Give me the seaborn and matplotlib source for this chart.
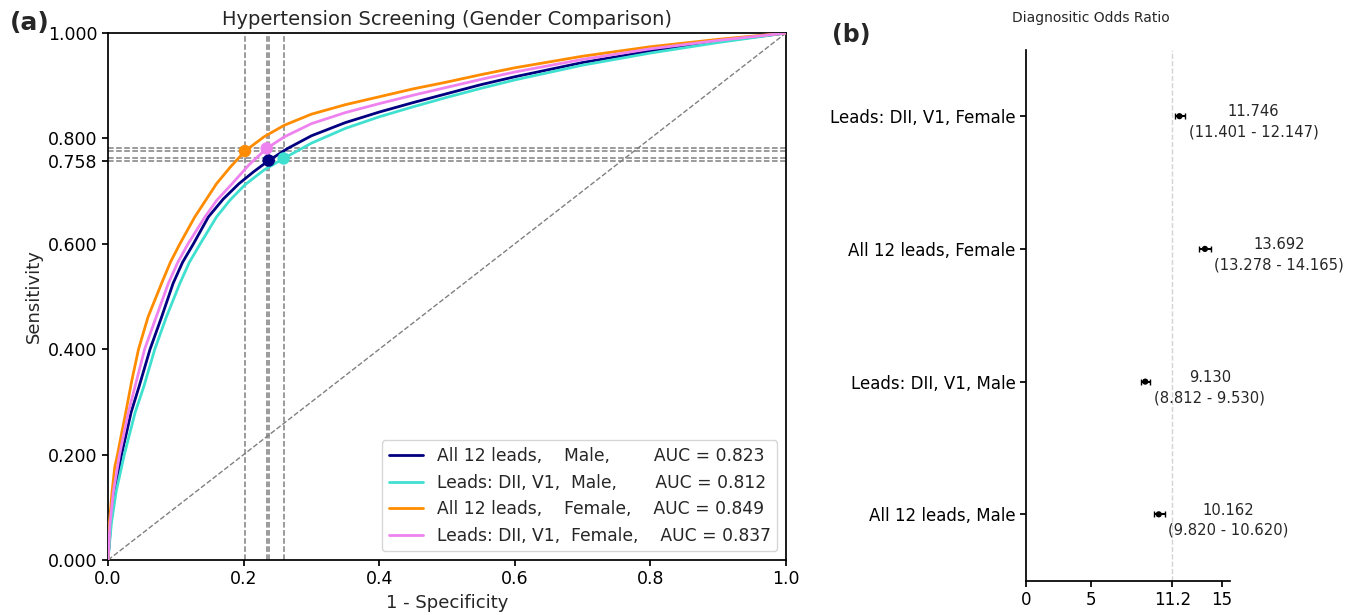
import matplotlib
matplotlib.use("Agg")
import matplotlib.pyplot as plt
import seaborn as sns
import pandas as pd
import numpy as np

# ---------------- data ----------------
curve_labels = [
    "All 12 leads,    Male,        AUC = 0.823",
    "Leads: DII, V1,  Male,       AUC = 0.812",
    "All 12 leads,    Female,    AUC = 0.849",
    "Leads: DII, V1,  Female,    AUC = 0.837",
]
curve_colors = ["navy", "turquoise", "darkorange", "violet"]

fpr_all12_male = [0, 0.004, 0.010, 0.020, 0.034, 0.046, 0.062, 0.079, 0.096, 0.110, 0.126, 0.148, 0.170, 0.193, 0.215, 0.237,
                  0.265, 0.30, 0.35, 0.40, 0.45, 0.50, 0.55, 0.60, 0.70, 0.80, 0.90, 1.0]
tpr_all12_male = [0, 0.07, 0.13, 0.20, 0.28, 0.33, 0.40, 0.461, 0.525, 0.565, 0.60, 0.651, 0.685, 0.714, 0.737, 0.758,
                  0.781, 0.805, 0.830, 0.850, 0.868, 0.885, 0.902, 0.917, 0.944, 0.966, 0.984, 1.0]

fpr_dii_male = [0, 0.005, 0.012, 0.024, 0.040, 0.053, 0.069, 0.086, 0.106, 0.120, 0.136, 0.160, 0.180, 0.202, 0.230, 0.259,
                0.30, 0.35, 0.40, 0.45, 0.50, 0.55, 0.60, 0.70, 0.80, 0.90, 1.0]
tpr_dii_male = [0, 0.07, 0.13, 0.20, 0.28, 0.33, 0.40, 0.461, 0.525, 0.565, 0.60, 0.651, 0.683, 0.712, 0.740, 0.762,
                0.791, 0.819, 0.841, 0.860, 0.878, 0.895, 0.911, 0.939, 0.962, 0.982, 1.0]

fpr_all12_female = [0, 0.002, 0.006, 0.010, 0.014, 0.020, 0.025, 0.035, 0.045, 0.059, 0.079, 0.092, 0.106, 0.128, 0.160,
                    0.180, 0.202, 0.23, 0.26, 0.30, 0.35, 0.40, 0.45, 0.50, 0.55, 0.60, 0.70, 0.80, 0.90, 1.0]
tpr_all12_female = [0, 0.07, 0.13, 0.177, 0.20, 0.24, 0.272, 0.34, 0.40, 0.461, 0.525, 0.565, 0.60, 0.651, 0.714,
                    0.745, 0.776, 0.803, 0.825, 0.846, 0.864, 0.879, 0.894, 0.907, 0.921, 0.934, 0.956, 0.974, 0.988, 1.0]

fpr_dii_female = [0, 0.003, 0.008, 0.017, 0.030, 0.040, 0.054, 0.071, 0.089, 0.103, 0.118, 0.143, 0.160, 0.183, 0.208,
                  0.234, 0.26, 0.30, 0.35, 0.40, 0.45, 0.50, 0.55, 0.60, 0.70, 0.80, 0.90, 1.0]
tpr_dii_female = [0, 0.07, 0.13, 0.20, 0.28, 0.33, 0.40, 0.461, 0.525, 0.565, 0.60, 0.651, 0.682, 0.714, 0.750,
                  0.781, 0.803, 0.828, 0.849, 0.866, 0.882, 0.897, 0.912, 0.926, 0.950, 0.970, 0.986, 1.0]

# operating points (1-specificity, sensitivity)
op_fpr = [0.237, 0.259, 0.202, 0.234]
op_tpr = [0.758, 0.762, 0.776, 0.781]

roc_yticks = [0.0, 0.2, 0.4, 0.6, 0.758, 0.8, 1.0]
roc_xticks = [0.0, 0.2, 0.4, 0.6, 0.8, 1.0]

# forest plot (bottom to top)
dor_labels = ["All 12 leads, Male", "Leads: DII, V1, Male", "All 12 leads, Female", "Leads: DII, V1, Female"]
dor_values = [10.162, 9.130, 13.692, 11.746]
dor_low = [9.820, 8.812, 13.278, 11.401]
dor_high = [10.620, 9.530, 14.165, 12.147]
dor_ref = 11.2
dor_xticks = [0, 5, 11.2, 15]
dor_xticklabels = ["0", "5", "11.2", "15"]

# ---------------- figure ----------------
sns.set_theme(style="ticks")
plt.rcParams["font.family"] = ["DejaVu Sans"]

fig = plt.figure(figsize=(13.57, 6.15), dpi=100)
ax = fig.add_axes([0.0796, 0.0894, 0.4996, 0.8569])
ax2 = fig.add_axes([0.756, 0.0558, 0.1503, 0.8632])

fprs = [fpr_all12_male, fpr_dii_male, fpr_all12_female, fpr_dii_female]
tprs = [tpr_all12_male, tpr_dii_male, tpr_all12_female, tpr_dii_female]

for fx, ty, lab, col in zip(fprs, tprs, curve_labels, curve_colors):
    df = pd.DataFrame({"fpr": fx, "tpr": ty})
    sns.lineplot(data=df, x="fpr", y="tpr", sort=False, estimator=None,
                 color=col, lw=2, label=lab, ax=ax, zorder=3)

# reference dashed lines
ax.plot([0, 1], [0, 1], ls="--", color="gray", lw=1, zorder=1)
for fx, ty in zip(op_fpr, op_tpr):
    ax.axvline(fx, ls="--", color="gray", lw=1.1, zorder=1)
    ax.axhline(ty, ls="--", color="gray", lw=1.1, zorder=1)

for fx, ty, col in zip(op_fpr, op_tpr, curve_colors):
    ax.scatter(fx, ty, s=80, color=col, zorder=4, edgecolor="none")

ax.set_xlim(0, 1)
ax.set_ylim(0, 1)
ax.set_xticks(roc_xticks)
ax.set_xticklabels([f"{v:.1f}" for v in roc_xticks], fontsize=12.5)
ax.set_yticks(roc_yticks)
ax.set_yticklabels([f"{v:.3f}" for v in roc_yticks], fontsize=12.5)
ax.set_xlabel("1 - Specificity", fontsize=13)
ax.set_ylabel("Sensitivity", fontsize=13)
ax.set_title("Hypertension Screening (Gender Comparison)", fontsize=14)
for s in ax.spines.values():
    s.set_visible(True)
    s.set_color("black")
ax.tick_params(colors="black", length=4)
ax.legend(loc="lower right", fontsize=12.3, frameon=True, handlelength=2.0)

# ---------------- forest plot ----------------
ypos = np.arange(len(dor_values))
fdf = pd.DataFrame({"dor": dor_values, "y": ypos})
xerr = np.array([np.array(dor_values) - np.array(dor_low), np.array(dor_high) - np.array(dor_values)])
ax2.errorbar(dor_values, ypos, xerr=xerr, fmt="none", ecolor="black", elinewidth=1.5, capsize=2, zorder=3)
sns.scatterplot(data=fdf, x="dor", y="y", color="black", s=20, ax=ax2, zorder=4, edgecolor="none")
ax2.axvline(dor_ref, ls="--", color="lightgray", lw=1, zorder=1)
for v, lo, hi, y in zip(dor_values, dor_low, dor_high, ypos):
    ax2.text(v + 0.7, y - 0.045, f"{v:.3f}\n({lo:.3f} - {hi:.3f})", ha="left", va="center",
             multialignment="center", fontsize=10.6, linespacing=1.45)
ax2.set_xlim(0, 15.6)
ax2.set_ylim(-0.5, 3.5)
ax2.set_yticks(ypos)
ax2.set_yticklabels(dor_labels, fontsize=12)
ax2.set_xticks(dor_xticks)
ax2.set_xticklabels(dor_xticklabels, fontsize=12)
ax2.set_xlabel("")
ax2.set_ylabel("")
ax2.spines["top"].set_visible(False)
ax2.spines["right"].set_visible(False)
ax2.spines["left"].set_color("black")
ax2.spines["bottom"].set_color("black")
ax2.tick_params(colors="black", length=4)
fig.text(1091 / 1357, 1 - 18 / 615, "Diagnositic Odds Ratio", fontsize=10, ha="center", va="center")

fig.text(0.007, 0.952, "(a)", fontsize=18, fontweight="bold")
fig.text(0.613, 0.932, "(b)", fontsize=17, fontweight="bold")

fig.savefig("out.png", dpi=100)
